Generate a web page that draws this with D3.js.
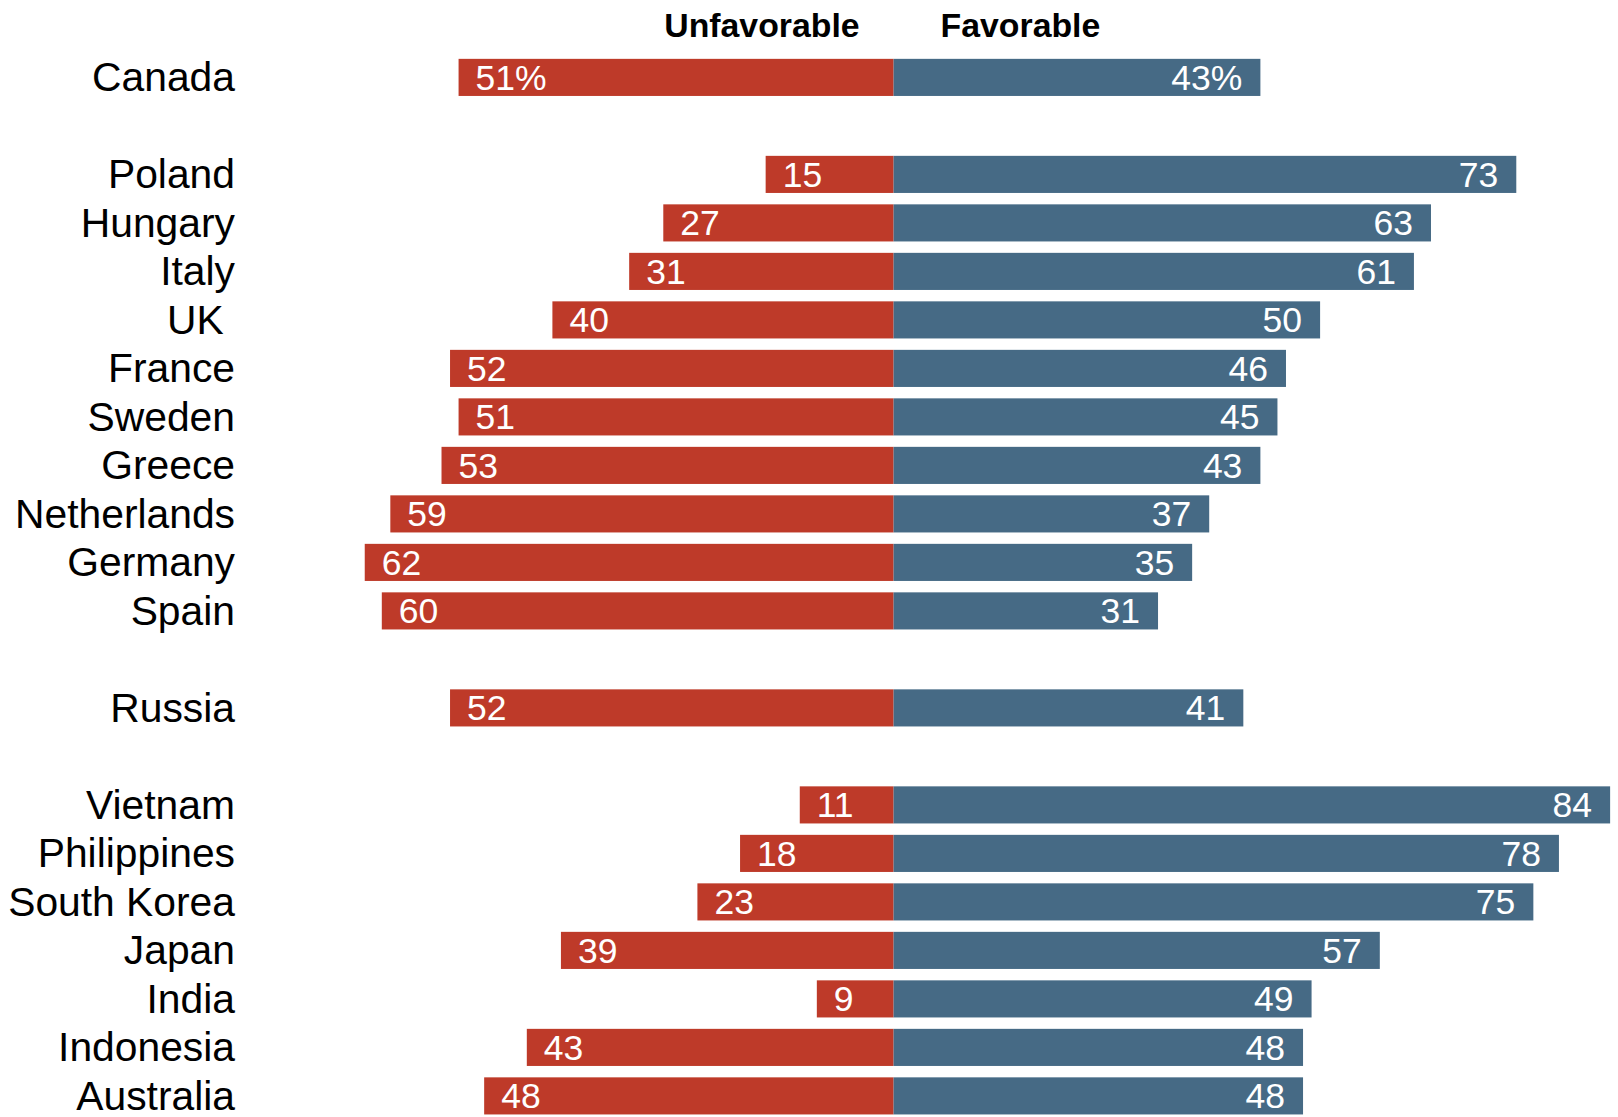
<!DOCTYPE html>
<html>
<head>
<meta charset="utf-8">
<script src="https://cdn.jsdelivr.net/npm/d3@7"></script>
<style>
  html, body { margin: 0; padding: 0; background: #fff; }
  svg { display: block; }
</style>
</head>
<body>
<svg id="chart" width="1618" height="1117"></svg>
<script>
const countries = ["Canada","Poland","Hungary","Italy","UK","France","Sweden","Greece","Netherlands","Germany","Spain","Russia","Vietnam","Philippines","South Korea","Japan","India","Indonesia","Australia"];
const groups = [0,1,1,1,1,1,1,1,1,1,1,2,3,3,3,3,3,3,3];
const unfavorable = [51,15,27,31,40,52,51,53,59,62,60,52,11,18,23,39,9,43,48];
const favorable = [43,73,63,61,50,46,45,43,37,35,31,41,84,78,75,57,49,48,48];
const headers = ["Unfavorable", "Favorable"];

const W = 1618, H = 1117;
const svg = d3.select("#chart");

const rows = countries.map((c, i) => ({
  country: c,
  slot: i + groups[i],
  unf: unfavorable[i],
  fav: favorable[i],
  first: i === 0
}));

const nSlots = d3.max(rows, d => d.slot) + 1;
const step = 48.5;
const y = d3.scaleBand()
  .domain(d3.range(nSlots))
  .range([53.15, 53.15 + nSlots * step])
  .paddingInner(0.235)
  .paddingOuter(0.1175);

const x = d3.scaleLinear().domain([-100, 100]).range([893.6 - 853, 893.6 + 853]);

const red = "#be3a29", blue = "#466a85";
const font = "Liberation Sans, Arial, sans-serif";

const g = svg.append("g");

// Header labels
g.append("text")
  .attr("x", x(0) - 34).attr("y", 37)
  .attr("text-anchor", "end")
  .attr("font-family", font)
  .attr("font-weight", "bold").attr("font-size", 33.8)
  .attr("fill", "#000")
  .text(headers[0]);
g.append("text")
  .attr("x", x(0) + 47).attr("y", 37)
  .attr("text-anchor", "start")
  .attr("font-family", font)
  .attr("font-weight", "bold").attr("font-size", 33.8)
  .attr("fill", "#000")
  .text(headers[1]);

const row = g.selectAll("g.row").data(rows).join("g").attr("class", "row");

row.append("rect")
  .attr("x", d => x(-d.unf))
  .attr("y", d => y(d.slot))
  .attr("width", d => x(0) - x(-d.unf))
  .attr("height", y.bandwidth())
  .attr("fill", red);

row.append("rect")
  .attr("x", x(0))
  .attr("y", d => y(d.slot))
  .attr("width", d => x(d.fav) - x(0))
  .attr("height", y.bandwidth())
  .attr("fill", blue);

const cy = d => y(d.slot) + y.bandwidth() / 2;

row.append("text")
  .attr("x", 235)
  .attr("y", d => cy(d) + 14)
  .attr("text-anchor", "end")
  .attr("font-family", font)
  .attr("font-size", 40.8)
  .attr("fill", "#000")
  .style("white-space", "pre")
  .text(d => d.country === "UK" ? "UK " : d.country);

row.append("text")
  .attr("x", d => x(-d.unf) + 17)
  .attr("y", d => cy(d) + 12.5)
  .attr("text-anchor", "start")
  .attr("font-family", font)
  .attr("font-size", 35.5)
  .attr("fill", "#fff")
  .text(d => d.unf + (d.first ? "%" : ""));

row.append("text")
  .attr("x", d => x(d.fav) - 18)
  .attr("y", d => cy(d) + 12.5)
  .attr("text-anchor", "end")
  .attr("font-family", font)
  .attr("font-size", 35.5)
  .attr("fill", "#fff")
  .text(d => d.fav + (d.first ? "%" : ""));
</script>
</body>
</html>
